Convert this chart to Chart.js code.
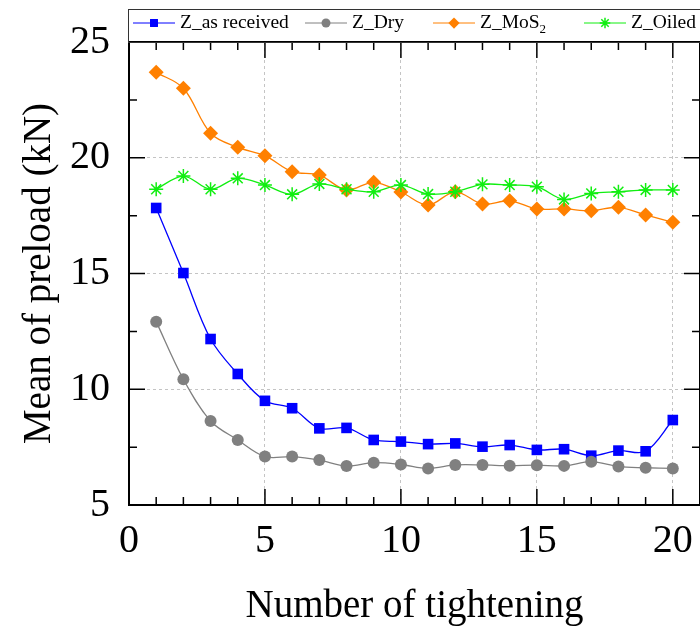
<!DOCTYPE html>
<html>
<head>
<meta charset="utf-8">
<script src="https://cdn.jsdelivr.net/npm/chart.js@4"></script>
<style>
  html, body { margin: 0; padding: 0; overflow: hidden; background: #fff; }
  canvas { display: block; }
</style>
</head>
<body>
<canvas id="preloadChart" width="700" height="626"></canvas>
<script>
const tightening = [1, 2, 3, 4, 5, 6, 7, 8, 9, 10, 11, 12, 13, 14, 15, 16, 17, 18, 19, 20];
const asReceived = [17.83, 15.02, 12.17, 10.66, 9.50, 9.18, 8.31, 8.33, 7.81, 7.74, 7.63, 7.66, 7.52, 7.59, 7.38, 7.41, 7.13, 7.35, 7.32, 8.67];
const dry = [12.92, 10.43, 8.63, 7.81, 7.09, 7.09, 6.94, 6.68, 6.83, 6.75, 6.58, 6.73, 6.73, 6.70, 6.72, 6.69, 6.87, 6.66, 6.61, 6.58];
const mos2 = [23.69, 23.00, 21.06, 20.45, 20.09, 19.40, 19.25, 18.61, 18.94, 18.52, 17.96, 18.53, 18.00, 18.14, 17.79, 17.79, 17.71, 17.86, 17.53, 17.21];
const oiled = [18.64, 19.21, 18.64, 19.11, 18.82, 18.42, 18.87, 18.64, 18.53, 18.82, 18.43, 18.53, 18.85, 18.82, 18.75, 18.20, 18.46, 18.53, 18.61, 18.61];
const seriesLabels = ['Z_as received', 'Z_Dry', 'Z_MoS2', 'Z_Oiled'];
const xTicks = [0, 5, 10, 15, 20];
const yTicks = [5, 10, 15, 20, 25];

const serif = '"Liberation Serif", "Times New Roman", serif';

function points(values) {
  return values.map((v, i) => ({ x: tightening[i], y: v }));
}

function series(label, values, color, style, radius, order) {
  return {
    label,
    data: points(values),
    borderColor: color,
    backgroundColor: color,
    pointBackgroundColor: color,
    pointBorderColor: color,
    pointStyle: style,
    pointRadius: radius,
    pointBorderWidth: style === 'star' ? 1.5 : 0,
    borderWidth: 1.3,
    tension: 0.35,
    order
  };
}

// frame with inward major/minor ticks on all four sides
const frameAndTicks = {
  id: 'frameAndTicks',
  afterDatasetsDraw(chart) {
    const { ctx, chartArea: a, scales: { x, y } } = chart;
    ctx.save();
    ctx.strokeStyle = '#000';
    ctx.lineWidth = 1.5;
    ctx.beginPath();
    for (let v = 0; v <= 21; v += 1) {
      const px = x.getPixelForValue(v);
      const len = v % 5 === 0 ? 16 : 8;
      ctx.moveTo(px, a.bottom); ctx.lineTo(px, a.bottom - len);
      ctx.moveTo(px, a.top); ctx.lineTo(px, a.top + len);
    }
    for (let v = 5; v <= 25; v += 2.5) {
      const py = y.getPixelForValue(v);
      const len = v % 5 === 0 ? 16 : 8;
      ctx.moveTo(a.left, py); ctx.lineTo(a.left + len, py);
      ctx.moveTo(a.right, py); ctx.lineTo(a.right - len, py);
    }
    ctx.stroke();
    ctx.lineWidth = 2;
    ctx.strokeRect(a.left, a.top, a.right - a.left, a.bottom - a.top);
    ctx.restore();
  }
};

// gnuplot-like legend: line segment with marker in the middle
const lineLegend = {
  id: 'lineLegend',
  afterDraw(chart) {
    const { ctx } = chart;
    const starts = [133, 305, 433, 584];
    const yc = 23;
    ctx.save();
    ctx.strokeStyle = '#333';
    ctx.lineWidth = 1;
    ctx.strokeRect(128.5, 9.5, 576, 33);
    chart.data.datasets.forEach((ds, i) => {
      const x0 = starts[i];
      ctx.strokeStyle = ds.borderColor;
      ctx.lineWidth = 1;
      ctx.beginPath();
      ctx.moveTo(x0, yc);
      ctx.lineTo(x0 + 42, yc);
      ctx.stroke();
      ctx.fillStyle = ds.pointBackgroundColor;
      ctx.strokeStyle = ds.pointBorderColor;
      ctx.lineWidth = ds.pointBorderWidth || 1;
      Chart.helpers.drawPoint(ctx, {
        pointStyle: ds.pointStyle,
        radius: ds.pointRadius * 0.75,
        borderWidth: ds.pointBorderWidth,
        rotation: 0
      }, x0 + 21, yc);

      ctx.fillStyle = '#000';
      ctx.textBaseline = 'alphabetic';
      ctx.font = '19.5px ' + serif;
      const m = ds.label.match(/^(.*[A-Za-z])(\d)$/);
      const main = m ? m[1] : ds.label;
      ctx.fillText(main, x0 + 47, 28);
      if (m) {
        const w = ctx.measureText(main).width;
        ctx.font = '13px ' + serif;
        ctx.fillText(m[2], x0 + 47 + w, 33);
      }
    });
    ctx.restore();
  }
};

const titleFont = { family: serif, size: 39, lineHeight: 1 };

new Chart(document.getElementById('preloadChart'), {
  type: 'line',
  data: {
    datasets: [
      series(seriesLabels[0], asReceived, '#0000ff', 'rect', 7.5, 4),
      series(seriesLabels[1], dry, '#808080', 'circle', 6, 3),
      series(seriesLabels[2], mos2, '#ff8000', 'rectRot', 7.5, 2),
      series(seriesLabels[3], oiled, '#11ee11', 'star', 7, 1)
    ]
  },
  options: {
    responsive: false,
    animation: false,
    // the right-hand frame sits just past the canvas edge, as in the original
    layout: { autoPadding: false, padding: { top: 42, right: -3, left: 0, bottom: 0 } },
    plugins: {
      legend: { display: false },
      tooltip: { enabled: false }
    },
    scales: {
      x: {
        type: 'linear',
        min: 0,
        max: 21,
        afterBuildTicks: s => { s.ticks = xTicks.map(v => ({ value: v })); },
        afterFit: s => {
          s.height = 121;
          s.paddingLeft = 0;
          s.paddingRight = 0;
        },
        grid: { color: '#c4c4c4', lineWidth: 1, drawTicks: false },
        border: { display: false, dash: [3, 3] },
        ticks: {
          font: { family: serif, size: 40, lineHeight: 1.825 },
          color: '#000', padding: 0, maxRotation: 0
        },
        title: {
          display: true, text: 'Number of tightening', font: titleFont, color: '#000',
          padding: { top: 0, bottom: 0 }
        }
      },
      y: {
        type: 'linear',
        min: 5,
        max: 25,
        afterBuildTicks: s => { s.ticks = yTicks.map(v => ({ value: v })); },
        afterFit: s => { s.width = 129; },
        grid: { color: '#c4c4c4', lineWidth: 1, drawTicks: false },
        border: { display: false, dash: [3, 3] },
        ticks: { font: { family: serif, size: 40, lineHeight: 1 }, color: '#000', padding: 19 },
        title: {
          display: true, text: 'Mean of preload (kN)', font: titleFont, color: '#000',
          padding: { top: 20, bottom: 0 }
        }
      }
    }
  },
  plugins: [frameAndTicks, lineLegend]
});
</script>
</body>
</html>
